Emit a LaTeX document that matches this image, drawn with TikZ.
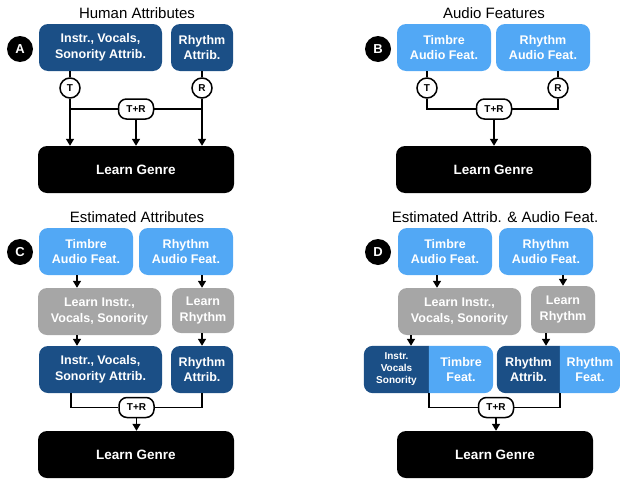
\documentclass[tikz,border=0pt]{standalone}
\usepackage{fontspec}
\setmainfont{Liberation Sans}
\usetikzlibrary{arrows.meta}
\pgfdeclarelayer{background}
\pgfsetlayers{background,main}
\definecolor{dblue}{HTML}{1B4F86}
\definecolor{lblue}{HTML}{52A8F5}
\definecolor{grayfill}{HTML}{A6A6A6}
\tikzset{
  box/.style={rounded corners=9pt, text=white, font=\bfseries\fontsize{12.5}{15.5}\selectfont, align=center, inner sep=0pt, minimum height=47pt},
  dbox/.style={box, fill=dblue},
  lbox/.style={box, fill=lblue},
  graybox/.style={box, fill=grayfill},
  genre/.style={box, fill=black, font=\bfseries\fontsize{13.5}{16}\selectfont, minimum width=196pt},
  letter/.style={circle, fill=black, text=white, font=\bfseries\fontsize{13}{15}\selectfont, minimum size=26pt, inner sep=0pt},
  tr/.style={circle, draw, line width=1.5pt, fill=white, minimum size=20pt, inner sep=0pt, font=\bfseries\fontsize{10}{11}\selectfont},
  trbox/.style={rectangle, rounded corners=8pt, draw, line width=1.5pt, fill=white, minimum width=35pt, minimum height=20pt, inner sep=0pt, font=\bfseries\fontsize{10}{11}\selectfont},
  title/.style={font=\fontsize{15}{18}\selectfont, anchor=base},
  conn/.style={line width=1.5pt},
  arr/.style={conn, -{Triangle[length=7pt,width=8pt]}},
  half/.style={text=white, align=center, inner sep=0pt, minimum height=47pt, font=\bfseries\fontsize{12.5}{15.5}\selectfont},
  smallhalf/.style={half, font=\bfseries\fontsize{10}{12}\selectfont}
}
\begin{document}
\begin{tikzpicture}[x=1pt,y=-1pt]
\useasboundingbox (0,0) rectangle (620,479);

% ---------------- Panel A ----------------
\node[title] (ta) at (137,18.5) {Human Attributes};
\node[letter] (la) at (20,49) {A};
\node[dbox, minimum width=123pt] (a1) at (100.5,47.5) {Instr., Vocals,\\Sonority Attrib.};
\node[dbox, minimum width=62pt] (a2) at (202,47.5) {Rhythm\\Attrib.};
\node[tr] (Ta) at (70,88) {T};
\node[tr] (Ra) at (202,88) {R};
\node[trbox] (tra) at (136,109) {T+R};
\node[genre] (ga) at (136,169.5) {Learn Genre};
\draw[conn] (Ta |- a1.south) -- (Ta);
\draw[conn] (a2.south) -- (Ra);
\draw[arr] (Ta) -- (Ta |- ga.north);
\draw[arr] (Ra) -- (Ra |- ga.north);
\draw[conn] (Ta |- tra) -- (tra);
\draw[conn] (Ra |- tra) -- (tra);
\draw[arr] (tra) -- (tra |- ga.north);

% ---------------- Panel B ----------------
\node[title] (tb) at (494,18.5) {Audio Features};
\node[letter] (lb) at (378,49) {B};
\node[lbox, minimum width=94pt] (b1) at (444,47.5) {Timbre\\Audio Feat.};
\node[lbox, minimum width=94pt] (b2) at (543,47.5) {Rhythm\\Audio Feat.};
\node[tr] (Tb) at (427,88) {T};
\node[tr] (Rb) at (558,88) {R};
\node[trbox] (trb) at (494,109) {T+R};
\node[genre, minimum width=195pt] (gb) at (493.5,169.5) {Learn Genre};
\draw[conn] (Tb |- b1.south) -- (Tb);
\draw[conn] (Rb |- b2.south) -- (Rb);
\draw[conn] (Tb) -- (Tb |- trb) -- (trb);
\draw[conn] (Rb) -- (Rb |- trb) -- (trb);
\draw[arr] (trb) -- (trb |- gb.north);

% ---------------- Panel C ----------------
\node[title] (tc) at (137,222.5) {Estimated Attributes};
\node[letter] (lc) at (20,252) {C};
\node[lbox, minimum width=94pt] (c1) at (86,251.5) {Timbre\\Audio Feat.};
\node[lbox, minimum width=94pt] (c2) at (186,251.5) {Rhythm\\Audio Feat.};
\node[graybox, minimum width=123pt] (cg1) at (99.5,311.5) {Learn Instr.,\\Vocals, Sonority};
\node[graybox, minimum width=62pt, minimum height=45pt] (cg2) at (203,310.5) {Learn\\Rhythm};
\node[dbox, minimum width=123pt] (cd1) at (100.5,369.5) {Instr., Vocals,\\Sonority Attrib.};
\node[dbox, minimum width=62pt] (cd2) at (202,369.5) {Rhythm\\Attrib.};
\node[trbox] (trc) at (136.5,407.5) {T+R};
\node[genre] (gc) at (136,454.5) {Learn Genre};
\draw[arr] ([xshift=-9pt]c1.south) -- ([xshift=-9pt]c1.south |- cg1.north);
\draw[arr] ([xshift=16pt]c2.south) -- ([xshift=16pt]c2.south |- cg2.north);
\draw[arr] ([xshift=-22.5pt]cg1.south) -- ([xshift=-22.5pt]cg1.south |- cd1.north);
\draw[arr] ([xshift=-1pt]cg2.south) -- ([xshift=-1pt]cg2.south |- cd2.north);
\draw[conn] ([xshift=-29.5pt]cd1.south) -- ([xshift=-29.5pt]cd1.south |- trc) -- (trc);
\draw[conn] (cd2.south) -- (cd2.south |- trc) -- (trc);
\draw[arr] (trc) -- (trc |- gc.north);

% ---------------- Panel D ----------------
\node[title] (td) at (495,222.5) {Estimated Attrib. \& Audio Feat.};
\node[letter] (ld) at (378,252) {D};
\node[lbox, minimum width=94pt] (e1) at (445,251.5) {Timbre\\Audio Feat.};
\node[lbox, minimum width=94pt] (e2) at (546,251.5) {Rhythm\\Audio Feat.};
\node[graybox, minimum width=123pt] (dg1) at (459.5,311.5) {Learn Instr.,\\Vocals, Sonority};
\node[graybox, minimum width=64pt, minimum height=47pt] (dg2) at (563,309.5) {Learn\\Rhythm};
% split boxes
\node[smallhalf, minimum width=65pt] (h1) at (396.5,369.5) {Instr.\\Vocals\\Sonority};
\node[half, minimum width=64pt] (h2) at (461,369.5) {Timbre\\Feat.};
\node[half, minimum width=63pt] (h3) at (528.5,369.5) {Rhythm\\Attrib.};
\node[half, minimum width=60pt] (h4) at (590,369.5) {Rhythm\\Feat.};
\begin{pgfonlayer}{background}
\begin{scope}
  \clip (h1.north west) rectangle (h1.south east);
  \fill[dblue, rounded corners=9pt] (h1.north west) rectangle ([xshift=20pt]h1.south east);
\end{scope}
\begin{scope}
  \clip (h2.north west) rectangle (h2.south east);
  \fill[lblue, rounded corners=9pt] ([xshift=-20pt]h2.north west) rectangle (h2.south east);
\end{scope}
\begin{scope}
  \clip (h3.north west) rectangle (h3.south east);
  \fill[dblue, rounded corners=9pt] (h3.north west) rectangle ([xshift=20pt]h3.south east);
\end{scope}
\begin{scope}
  \clip (h4.north west) rectangle (h4.south east);
  \fill[lblue, rounded corners=9pt] ([xshift=-20pt]h4.north west) rectangle (h4.south east);
\end{scope}
\end{pgfonlayer}
\node[trbox] (trd) at (496,407.5) {T+R};
\node[genre] (gd) at (495,454.5) {Learn Genre};
\draw[arr] ([xshift=-8pt]e1.south) -- ([xshift=-8pt]e1.south |- dg1.north);
\draw[arr] (dg2.north |- e2.south) -- (dg2.north);
\draw[arr] ([xshift=-48.5pt]dg1.south) -- ([xshift=-48.5pt]dg1.south |- h1.north);
\draw[arr] ([xshift=-17pt]dg2.south) -- ([xshift=-17pt]dg2.south |- h3.north);
\draw[conn] (h1.south east) -- (h1.south east |- trd) -- (trd);
\draw[conn] (h3.south east) -- (h3.south east |- trd) -- (trd);
\draw[arr] (trd) -- (trd |- gd.north);
\end{tikzpicture}
\end{document}
